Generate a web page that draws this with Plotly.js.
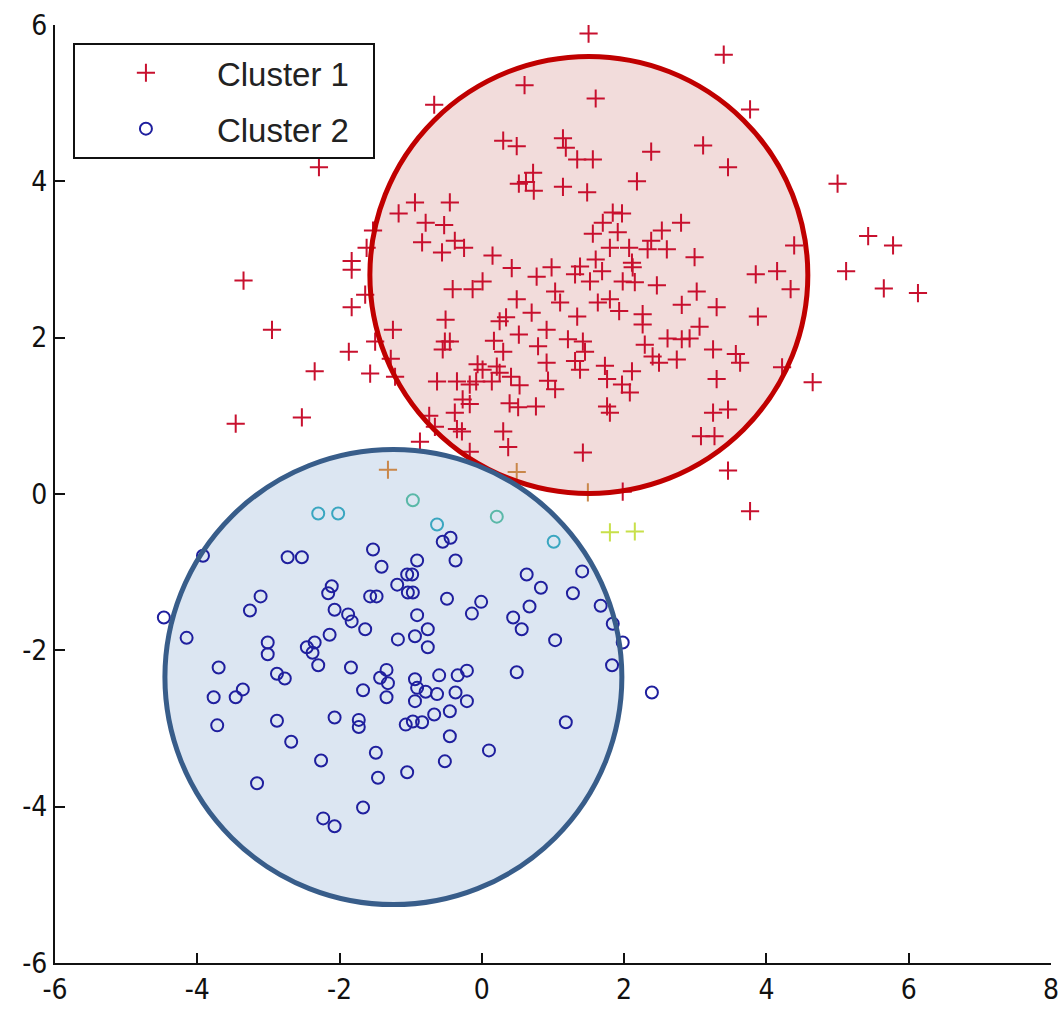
<!DOCTYPE html>
<html>
<head>
<meta charset="utf-8">
<script src="https://cdn.plot.ly/plotly-3.0.1.min.js"></script>
<style>html,body{margin:0;padding:0;background:#fff;}#chart{width:1064px;height:1012px;}</style>
</head>
<body>
<div id="chart"></div>
<script>
// Cluster 1 (red plus) points
const c1x = [-0.67,-2.29,-0.94,-1.17,-0.45,-0.79,-0.53,-0.84,-0.38,-0.56,-1.53,-1.62,-1.83,-1.83,-3.35,
 1.50,0.60,1.60,0.30,0.49,1.14,1.18,1.34,1.56,2.38,3.11,0.72,0.52,0.62,0.73,1.14,1.48,2.18,1.84,1.97,1.70,2.80,2.53,1.56,1.91,2.38,1.80,2.07,2.33,2.60,2.99,-0.25,0.15,0.42,0.98,1.60,2.11,2.12,1.38,1.69,0.77,1.31,
 3.40,3.77,3.46,5.00,5.43,5.78,4.39,3.85,4.15,5.12,
 -1.64,-1.83,-2.95,-1.25,-1.50,-1.87,-2.35,-1.57,-1.28,-1.22,-3.46,-2.53,-0.87,-0.74,-0.66,-0.38,-0.35,-0.41,-0.51,-0.52,-0.45,-0.55,-0.63,-0.35,
 -0.13,0.01,0.49,0.70,1.03,1.10,1.34,1.52,1.63,1.80,1.93,1.98,2.15,2.46,2.26,2.26,2.81,3.02,3.06,3.30,0.25,0.34,0.52,0.91,0.17,0.30,0.79,1.21,1.42,1.45,2.29,2.40,2.49,2.61,2.81,2.92,2.74,3.25,1.31,1.38,0.91,1.73,2.11,-0.06,0.21,0.25,0.01,1.76,1.97,2.08,0.41,0.53,0.93,1.03,0.14,-0.17,-0.08,-0.27,-0.17,0.39,0.51,0.76,1.76,1.80,3.30,3.25,3.08,3.27,0.30,-0.28,0.37,-0.17,1.42,
 4.34,5.65,6.13,3.88,3.57,3.63,4.22,4.65,3.46,3.46,3.77,1.98];
const c1y = [4.98,4.18,3.73,3.59,3.73,3.47,3.44,3.22,3.24,3.09,3.37,3.15,2.98,2.87,2.73,
 5.89,5.23,5.06,4.52,4.45,4.55,4.43,4.28,4.28,4.38,4.46,4.11,3.97,3.99,3.88,3.93,3.86,4.00,3.60,3.59,3.47,3.47,3.37,3.33,3.35,3.24,3.15,3.15,3.13,3.13,3.03,3.15,3.05,2.89,2.90,3.00,2.96,2.90,2.91,2.85,2.78,2.81,
 5.62,4.92,4.18,3.97,3.30,3.18,3.18,2.81,2.85,2.85,
 2.55,2.39,2.10,2.10,1.95,1.82,1.57,1.54,1.73,1.50,0.90,0.98,0.67,1.00,0.86,1.04,0.83,2.62,2.23,1.95,1.95,1.85,1.44,1.44,
 2.62,2.72,2.49,2.32,2.59,2.45,2.27,2.72,2.45,2.49,2.34,2.72,2.71,2.67,2.30,2.17,2.42,2.59,2.14,2.39,2.21,2.26,2.04,2.10,1.96,1.82,1.89,1.98,1.95,1.82,1.91,1.76,1.68,1.99,1.98,1.99,1.72,1.85,1.70,1.59,1.68,1.64,1.57,1.66,1.63,1.55,1.59,1.47,1.40,1.30,1.50,1.39,1.45,1.34,1.44,1.40,1.44,1.21,1.15,1.16,1.11,1.12,1.12,1.04,1.47,1.04,0.74,0.74,0.80,0.80,0.60,0.54,0.53,
 2.62,2.63,2.57,2.27,1.79,1.68,1.62,1.43,1.08,0.30,-0.22,0.03];
// Cluster 1 points drawn in lighter colours near the boundary
const c1ox = [-1.32,0.49,1.49];
const c1oy = [0.31,0.28,0.02];
const c1gx = [1.80,2.15];
const c1gy = [-0.49,-0.48];

// Cluster 2 (blue circle) points
const c2x = [-3.92,-2.73,-2.53,-1.53,-1.41,-3.11,-3.26,-4.47,-4.15,-2.11,-2.16,-1.57,-1.48,-2.07,-1.88,-1.83,-1.64,-2.14,-1.19,-1.05,-1.04,-1.18,-3.01,-3.01,-2.46,-2.35,-2.38,
 -0.55,-0.44,-0.91,-0.37,-0.98,1.41,0.63,0.83,1.28,-0.97,-0.49,-0.01,-0.14,0.67,0.44,0.56,1.67,1.84,-0.91,-0.76,-0.94,-0.76,1.03,1.98,
 -3.70,-2.88,-2.77,-2.30,-1.84,-1.34,-1.43,-1.32,-1.34,-1.67,-3.77,-3.36,-3.46,-3.72,-2.88,-2.07,-1.73,-1.73,-1.07,-2.68,-2.26,-1.49,-1.46,-1.05,-3.16,-1.67,-2.23,-2.07,
 -0.94,-0.91,-0.60,-0.34,-0.21,-0.79,-0.63,-0.94,-0.37,-0.21,-0.45,-0.67,-0.84,-0.97,0.49,1.83,2.39,1.18,-0.45,0.10,-0.52];
const c2y = [-0.79,-0.81,-0.81,-0.71,-0.93,-1.31,-1.49,-1.58,-1.84,-1.18,-1.27,-1.31,-1.31,-1.48,-1.54,-1.63,-1.73,-1.80,-1.16,-1.03,-1.26,-1.86,-1.90,-2.05,-1.96,-1.90,-2.03,
 -0.61,-0.56,-0.85,-0.85,-1.03,-0.99,-1.03,-1.20,-1.27,-1.26,-1.34,-1.38,-1.53,-1.44,-1.58,-1.73,-1.43,-1.66,-1.55,-1.73,-1.82,-1.96,-1.87,-1.90,
 -2.22,-2.30,-2.36,-2.19,-2.22,-2.25,-2.35,-2.42,-2.60,-2.51,-2.60,-2.50,-2.60,-2.96,-2.90,-2.86,-2.89,-2.98,-2.95,-3.17,-3.41,-3.31,-3.63,-3.56,-3.70,-4.01,-4.15,-4.25,
 -2.37,-2.48,-2.32,-2.32,-2.26,-2.53,-2.56,-2.65,-2.54,-2.65,-2.78,-2.82,-2.92,-2.91,-2.28,-2.19,-2.54,-2.92,-3.10,-3.28,-3.42];
// Cluster 2 points drawn in lighter colours near the boundary
const c2cx = [-2.30,-2.02,-0.63,1.01];
const c2cy = [-0.25,-0.25,-0.39,-0.61];
const c2tx = [-0.97,0.21];
const c2ty = [-0.08,-0.29];

// Tick values
const xTicks = [-6,-4,-2,0,2,4,6,8];
const yTicks = [-6,-4,-2,0,2,4,6];

// Cluster circles: [x0, x1, y0, y1]
const redCircle = [-1.574, 4.582, 0.006, 5.598];
const blueCircle = [-4.455, 1.968, -5.253, 0.569];

const legendNames = ['Cluster 1', 'Cluster 2'];

const redCol = '#c8102e';
const blueCol = '#1f1f9e';

const plusMarker = (col) => ({symbol: 'cross-thin', size: 13, color: col, line: {color: col, width: 2}});
const ringMarker = (col) => ({symbol: 'circle-open', size: 12, color: col, line: {color: col, width: 2}});

const traces = [
  {x: c1x, y: c1y, type: 'scatter', mode: 'markers', name: legendNames[0] + '&nbsp;&nbsp;', legendgroup: 'a', marker: plusMarker(redCol)},
  {x: c1ox, y: c1oy, type: 'scatter', mode: 'markers', showlegend: false, marker: plusMarker('#c9874a')},
  {x: c1gx, y: c1gy, type: 'scatter', mode: 'markers', showlegend: false, marker: plusMarker('#c8e04a')},
  {x: c2x, y: c2y, type: 'scatter', mode: 'markers', name: legendNames[1] + '&nbsp;&nbsp;', legendgroup: 'b', marker: ringMarker(blueCol)},
  {x: c2cx, y: c2cy, type: 'scatter', mode: 'markers', showlegend: false, marker: ringMarker('#3aa6c0')},
  {x: c2tx, y: c2ty, type: 'scatter', mode: 'markers', showlegend: false, marker: ringMarker('#5ab8a8')}
];

const circleShape = (c, fill, line, layer) => ({
  type: 'circle', xref: 'x', yref: 'y', x0: c[0], x1: c[1], y0: c[2], y1: c[3], layer: layer,
  fillcolor: fill, line: line
});

const tickFont = {family: '"DejaVu Sans Condensed", "Liberation Sans Narrow", Arial, sans-serif', size: 28, color: '#111'};

const layout = {
  width: 1064, height: 1012,
  margin: {l: 55, r: 13, t: 25, b: 49},
  paper_bgcolor: '#fff', plot_bgcolor: '#fff',
  showlegend: true,
  legend: {
    x: 0.018, y: 0.981, xanchor: 'left', yanchor: 'top',
    bgcolor: '#fff', bordercolor: '#111', borderwidth: 2,
    font: {family: '"Liberation Sans", Arial, sans-serif', size: 33, color: '#222'},
    itemwidth: 132, tracegroupgap: 10
  },
  xaxis: {
    range: [-6, 8], tickvals: xTicks, ticktext: xTicks.map(String),
    showgrid: false, zeroline: false, showline: true, linecolor: '#111', linewidth: 2,
    ticks: 'inside', ticklen: 10, tickwidth: 2, tickcolor: '#111', tickfont: tickFont, mirror: false
  },
  yaxis: {
    range: [-6, 6], tickvals: yTicks, ticktext: yTicks.map(String),
    showgrid: false, zeroline: false, showline: true, linecolor: '#111', linewidth: 2,
    ticks: 'inside', ticklen: 10, tickwidth: 2, tickcolor: '#111', tickfont: tickFont, mirror: false
  },
  shapes: [
    circleShape(redCircle, '#f2dcdb', {width: 0}, 'below'),
    circleShape(blueCircle, '#dce6f2', {width: 0}, 'below'),
    circleShape(redCircle, 'rgba(0,0,0,0)', {color: '#c00000', width: 5}, 'above'),
    circleShape(blueCircle, 'rgba(0,0,0,0)', {color: '#385d8a', width: 5}, 'above')
  ]
};

Plotly.newPlot('chart', traces, layout, {displayModeBar: false, staticPlot: true});
</script>
</body>
</html>
